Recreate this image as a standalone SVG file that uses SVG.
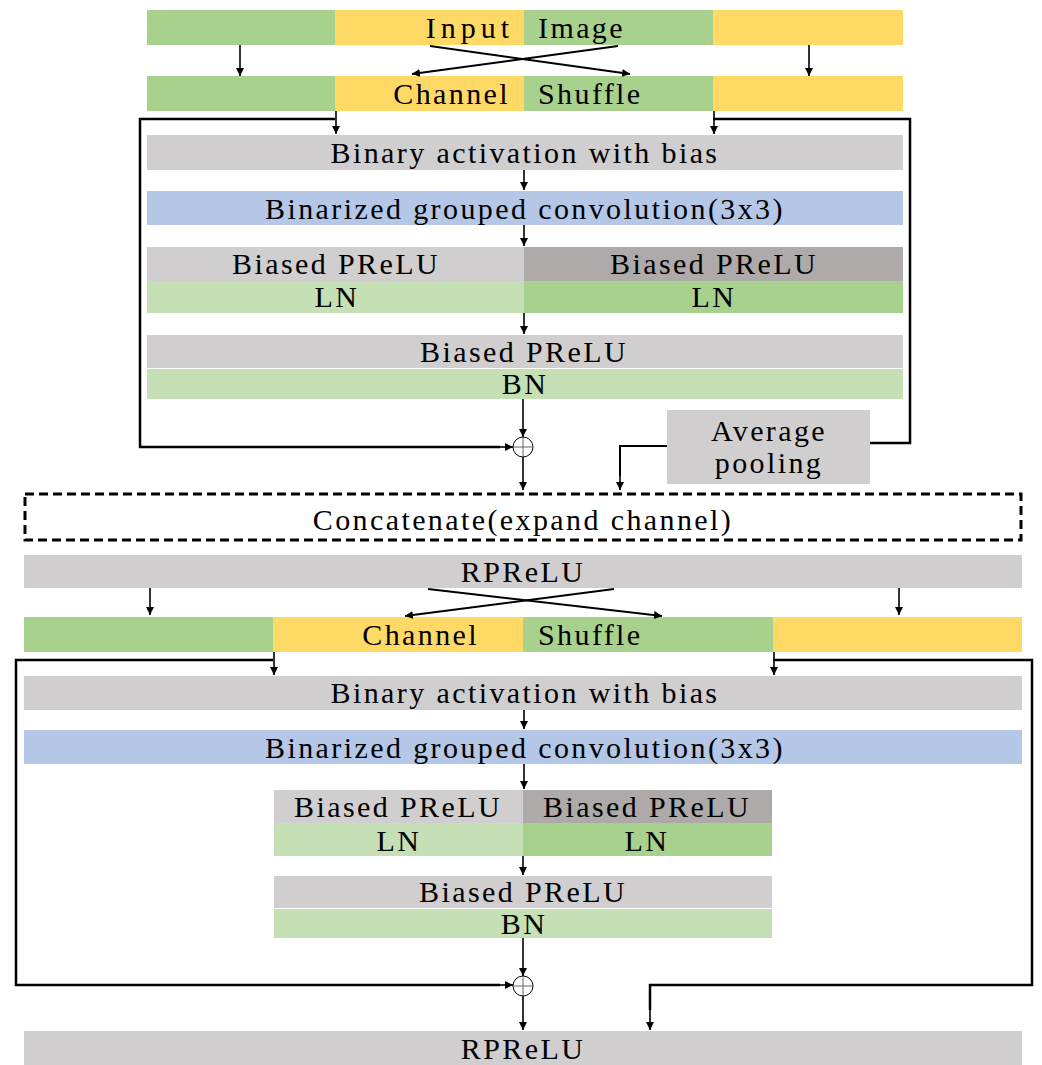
<svg xmlns="http://www.w3.org/2000/svg" width="1042" height="1065" viewBox="0 0 1042 1065">
<defs>
<marker id="ah" viewBox="0 0 10 10" refX="10" refY="5" markerWidth="8" markerHeight="8" markerUnits="userSpaceOnUse" orient="auto">
<path d="M0,0 L10,5 L0,10 z" fill="#000"/>
</marker>
</defs>
<style>
text{font-family:"Liberation Serif","Times New Roman",serif;font-size:30px;fill:#000;letter-spacing:2.4px}
.c{text-anchor:middle}
.e{text-anchor:end}
.g{fill:#A9D18E}
.y{fill:#FFD966}
.gr{fill:#D0CECE}
.dg{fill:#AEAAAA}
.lg{fill:#C5E0B4}
.b{fill:#B4C7E7}
.ln{stroke:#000;stroke-width:2;fill:none}
.sk{stroke:#000;stroke-width:2.5;fill:none}
.ar{stroke:#000;stroke-width:1.6;fill:none;marker-end:url(#ah)}
</style>
<rect width="1042" height="1065" fill="#fff"/>

<g id="input-image">
<rect class="g" x="147" y="10" width="188" height="35"/>
<rect class="y" x="335" y="10" width="189" height="35"/>
<rect class="g" x="524" y="10" width="189" height="35"/>
<rect class="y" x="713" y="10" width="190" height="35"/>
<text class="e" x="514" y="38" style="letter-spacing:5px">Input</text>
<text x="538" y="38">Image</text>
</g>

<g id="channel-shuffle-1">
<rect class="g" x="147" y="76" width="188" height="35"/>
<rect class="y" x="335" y="76" width="189" height="35"/>
<rect class="g" x="524" y="76" width="189" height="35"/>
<rect class="y" x="713" y="76" width="190" height="35"/>
<text class="e" x="510" y="104">Channel</text>
<text x="538" y="104">Shuffle</text>
</g>

<g id="binary-act-1">
<rect class="gr" x="147" y="135" width="756" height="35"/>
<text class="c" x="525" y="163">Binary activation with bias</text>
</g>

<g id="conv-1">
<rect class="b" x="147" y="191" width="756" height="34"/>
<text class="c" x="525" y="219">Binarized grouped convolution(3x3)</text>
</g>

<g id="prelu-ln-1">
<rect class="gr" x="147" y="247" width="377" height="34"/>
<rect class="dg" x="524" y="247" width="379" height="34"/>
<rect class="lg" x="147" y="281" width="377" height="32"/>
<rect class="g" x="524" y="281" width="379" height="32"/>
<text class="c" x="336" y="274">Biased PReLU</text>
<text class="c" x="714" y="274">Biased PReLU</text>
<text class="c" x="337" y="307">LN</text>
<text class="c" x="714" y="307">LN</text>
</g>

<g id="prelu-bn-1">
<rect class="gr" x="147" y="335" width="756" height="33"/>
<rect class="lg" x="147" y="369" width="756" height="30"/>
<text class="c" x="524" y="362">Biased PReLU</text>
<text class="c" x="525" y="394">BN</text>
</g>

<g id="add-1">
<circle cx="523" cy="447" r="10" fill="#fff" stroke="#000" stroke-width="1"/>
<path d="M513,447 H533 M523,437 V457" stroke="#666" stroke-width="1"/>
</g>

<g id="avg-pool">
<rect class="gr" x="667" y="410" width="203" height="74"/>
<text class="c" x="769" y="441">Average</text>
<text class="c" x="769" y="473">pooling</text>
</g>

<g id="concat">
<rect x="25" y="494" width="996" height="46" fill="none" stroke="#000" stroke-width="3" stroke-dasharray="9,5"/>
<text class="c" x="523" y="530">Concatenate(expand channel)</text>
</g>

<g id="rprelu-1">
<rect class="gr" x="24" y="555" width="998" height="33"/>
<text class="c" x="523" y="582">RPReLU</text>
</g>

<g id="channel-shuffle-2">
<rect class="g" x="24" y="617" width="249" height="35"/>
<rect class="y" x="273" y="617" width="250" height="35"/>
<rect class="g" x="523" y="617" width="250" height="35"/>
<rect class="y" x="773" y="617" width="249" height="35"/>
<text class="e" x="479" y="645">Channel</text>
<text x="538" y="645">Shuffle</text>
</g>

<g id="binary-act-2">
<rect class="gr" x="24" y="676" width="998" height="34"/>
<text class="c" x="525" y="703">Binary activation with bias</text>
</g>

<g id="conv-2">
<rect class="b" x="24" y="730" width="998" height="34"/>
<text class="c" x="525" y="758">Binarized grouped convolution(3x3)</text>
</g>

<g id="prelu-ln-2">
<rect class="gr" x="274" y="790" width="249" height="33"/>
<rect class="dg" x="523" y="790" width="249" height="33"/>
<rect class="lg" x="274" y="823" width="249" height="33"/>
<rect class="g" x="523" y="823" width="249" height="33"/>
<text class="c" x="398" y="817">Biased PReLU</text>
<text class="c" x="647" y="817">Biased PReLU</text>
<text class="c" x="399" y="851">LN</text>
<text class="c" x="647" y="851">LN</text>
</g>

<g id="prelu-bn-2">
<rect class="gr" x="274" y="876" width="498" height="32"/>
<rect class="lg" x="274" y="909" width="498" height="29"/>
<text class="c" x="523" y="902">Biased PReLU</text>
<text class="c" x="524" y="934">BN</text>
</g>

<g id="add-2">
<circle cx="523" cy="986" r="10" fill="#fff" stroke="#000" stroke-width="1"/>
<path d="M513,986 H533 M523,976 V996" stroke="#666" stroke-width="1"/>
</g>

<g id="rprelu-2">
<rect class="gr" x="24" y="1031" width="998" height="34"/>
<text class="c" x="523" y="1059">RPReLU</text>
</g>

<g id="connectors">
<line class="ar" x1="240" y1="45" x2="240" y2="76"/>
<line class="ar" x1="809" y1="45" x2="809" y2="76"/>
<line class="ln" x1="430" y1="46" x2="630" y2="74" marker-end="url(#ah)"/>
<line class="ln" x1="618" y1="46" x2="412" y2="74" marker-end="url(#ah)"/>

<polyline class="sk" points="335,119 140,119 140,447 500,447"/>
<line class="ar" x1="499" y1="447" x2="513" y2="447"/>
<line class="ar" x1="336" y1="111" x2="336" y2="134"/>
<polyline class="sk" points="713,119 910,119 910,443 870,443"/>
<line class="ar" x1="714" y1="111" x2="714" y2="134"/>

<line class="ar" x1="524" y1="170" x2="524" y2="190"/>
<line class="ar" x1="524" y1="225" x2="524" y2="246"/>
<line class="ar" x1="524" y1="313" x2="524" y2="334"/>
<line class="ar" x1="523" y1="399" x2="523" y2="437"/>
<line class="ar" x1="523" y1="457" x2="523" y2="490"/>
<polyline class="ln" points="667,446 620,446 620,476"/>
<line class="ar" x1="620" y1="475" x2="620" y2="490"/>

<line class="ar" x1="150" y1="588" x2="150" y2="615"/>
<line class="ar" x1="899" y1="588" x2="899" y2="615"/>
<line class="ln" x1="428" y1="589" x2="662" y2="616" marker-end="url(#ah)"/>
<line class="ln" x1="614" y1="589" x2="405" y2="616" marker-end="url(#ah)"/>

<polyline class="sk" points="273,660 16,660 16,985 500,985"/>
<line class="ar" x1="499" y1="985" x2="513" y2="985"/>
<line class="ar" x1="274" y1="652" x2="274" y2="675"/>
<polyline class="sk" points="773,660 1032,660 1032,985 650,985 650,1010"/>
<line class="ar" x1="650" y1="1008" x2="650" y2="1030"/>
<line class="ar" x1="774" y1="652" x2="774" y2="675"/>

<line class="ar" x1="524" y1="710" x2="524" y2="729"/>
<line class="ar" x1="524" y1="764" x2="524" y2="789"/>
<line class="ar" x1="523" y1="856" x2="523" y2="875"/>
<line class="ar" x1="523" y1="938" x2="523" y2="976"/>
<line class="ar" x1="523" y1="996" x2="523" y2="1030"/>
</g>
</svg>
